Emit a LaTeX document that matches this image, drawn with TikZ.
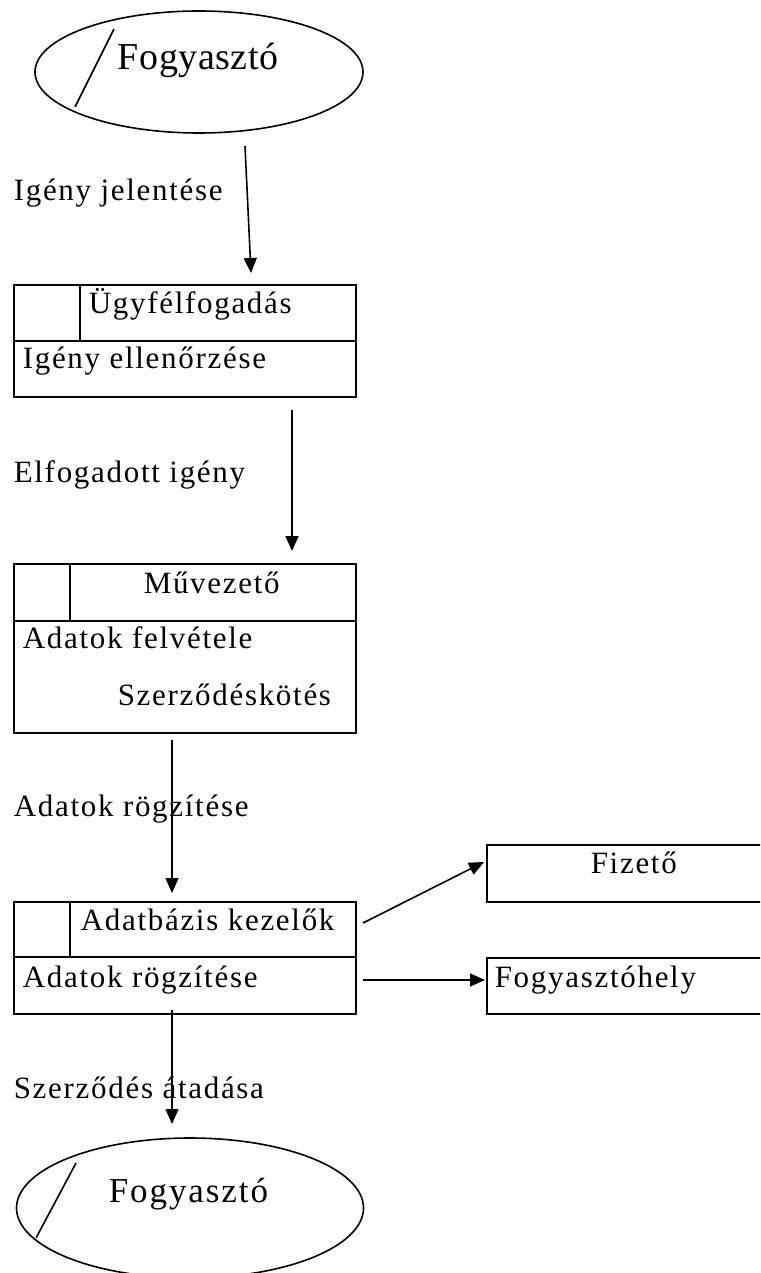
\documentclass[tikz,border=0pt]{standalone}
\usepackage{fontspec}
\setmainfont{Liberation Serif}
\newfontfamily\labfont{Liberation Serif}[LetterSpace=5.5]
\newfontfamily\bigfont{Liberation Serif}[LetterSpace=1.5]
\usetikzlibrary{shapes.geometric,arrows.meta}
\begin{document}
\begin{tikzpicture}[x=1pt,y=-1pt,
  line width=1.6pt,
  lbl/.style={anchor=base west,inner sep=0pt,font=\labfont\fontsize{31}{36}\selectfont},
  boxn/.style={draw,rectangle,anchor=north west,inner sep=0pt},
  ell/.style={draw,ellipse,inner sep=0pt},
  flow/.style={-{Triangle[length=15pt,width=13pt]}}]
\useasboundingbox (0,0) rectangle (760,1273);
\clip (0,0) rectangle (760,1273);
% top ellipse
\node[ell,minimum width=328pt,minimum height=122pt] (e1) at (199,72) {};
\draw (114,29) -- (75,107);
\node[anchor=base west,inner sep=0pt,font=\bigfont\fontsize{38}{44}\selectfont] (t1) at (117,70) {Fogyasztó};
% label 1
\node[lbl] (l1) at (13,201) {Igény jelentése};
% box 1
\node[boxn,minimum width=342pt,minimum height=112pt] (b1) at (13,284) {};
\draw (13,341) -- (355,341);
\draw (80,284) -- (80,341);
\node[lbl] (b1a) at (88,313) {Ügyfélfogadás};
\node[lbl] (b1b) at (22,368) {Igény ellenőrzése};
% label 2
\node[lbl] (l2) at (13,482) {Elfogadott igény};
% box 2
\node[boxn,minimum width=342pt,minimum height=169pt] (b2) at (13,563) {};
\draw (13,621) -- (355,621);
\draw (70,563) -- (70,621);
\node[lbl] (b2a) at (143,593) {Művezető};
\node[lbl] (b2b) at (22,648) {Adatok felvétele};
\node[lbl] (b2c) at (117,705) {Szerződéskötés};
% label 3
\node[lbl] (l3) at (13,816) {Adatok rögzítése};
% box 3
\node[boxn,minimum width=342pt,minimum height=112pt] (b3) at (13,901) {};
\draw (13,957) -- (355,957);
\draw (70,901) -- (70,957);
\node[lbl] (b3a) at (80,930) {Adatbázis kezelők};
\node[lbl] (b3b) at (22,987) {Adatok rögzítése};
% right boxes
\node[boxn,minimum width=290pt,minimum height=57pt] (f1) at (486,844) {};
\node[lbl] (f1t) at (590,873) {Fizető};
\node[boxn,minimum width=290pt,minimum height=56pt] (f2) at (486,957) {};
\node[lbl] (f2t) at (494,987) {Fogyasztóhely};
% label 4
\node[lbl] (l4) at (13,1098) {Szerződés átadása};
% bottom ellipse
\node[ell,minimum width=347pt,minimum height=140pt] (e2) at (190,1208) {};
\draw (76,1163) -- (36,1238);
\node[anchor=base west,inner sep=0pt,font=\labfont\fontsize{35}{42}\selectfont] (t2) at (108,1202) {Fogyasztó};
% connector end points
\coordinate (a1s) at (245,146);
\coordinate (a1e) at (251,273);
\coordinate (a2s) at (292,410);
\coordinate (a2e) at (292,551);
\coordinate (a3s) at (172,740);
\coordinate (a3e) at (172,893);
\coordinate (a4s) at (172,1010);
\coordinate (a4e) at (172,1124);
\coordinate (a5s) at (363,923);
\coordinate (a5e) at (484,862);
\coordinate (a6s) at (363,980);
\coordinate (a6e) at (485,980);
\draw[flow] (a1s) -- (a1e);
\draw[flow] (a2s) -- (a2e);
\draw[flow] (a3s) -- (a3e);
\draw[flow] (a4s) -- (a4e);
\draw[flow] (a5s) -- (a5e);
\draw[flow] (a6s) -- (a6e);
\end{tikzpicture}
\end{document}
